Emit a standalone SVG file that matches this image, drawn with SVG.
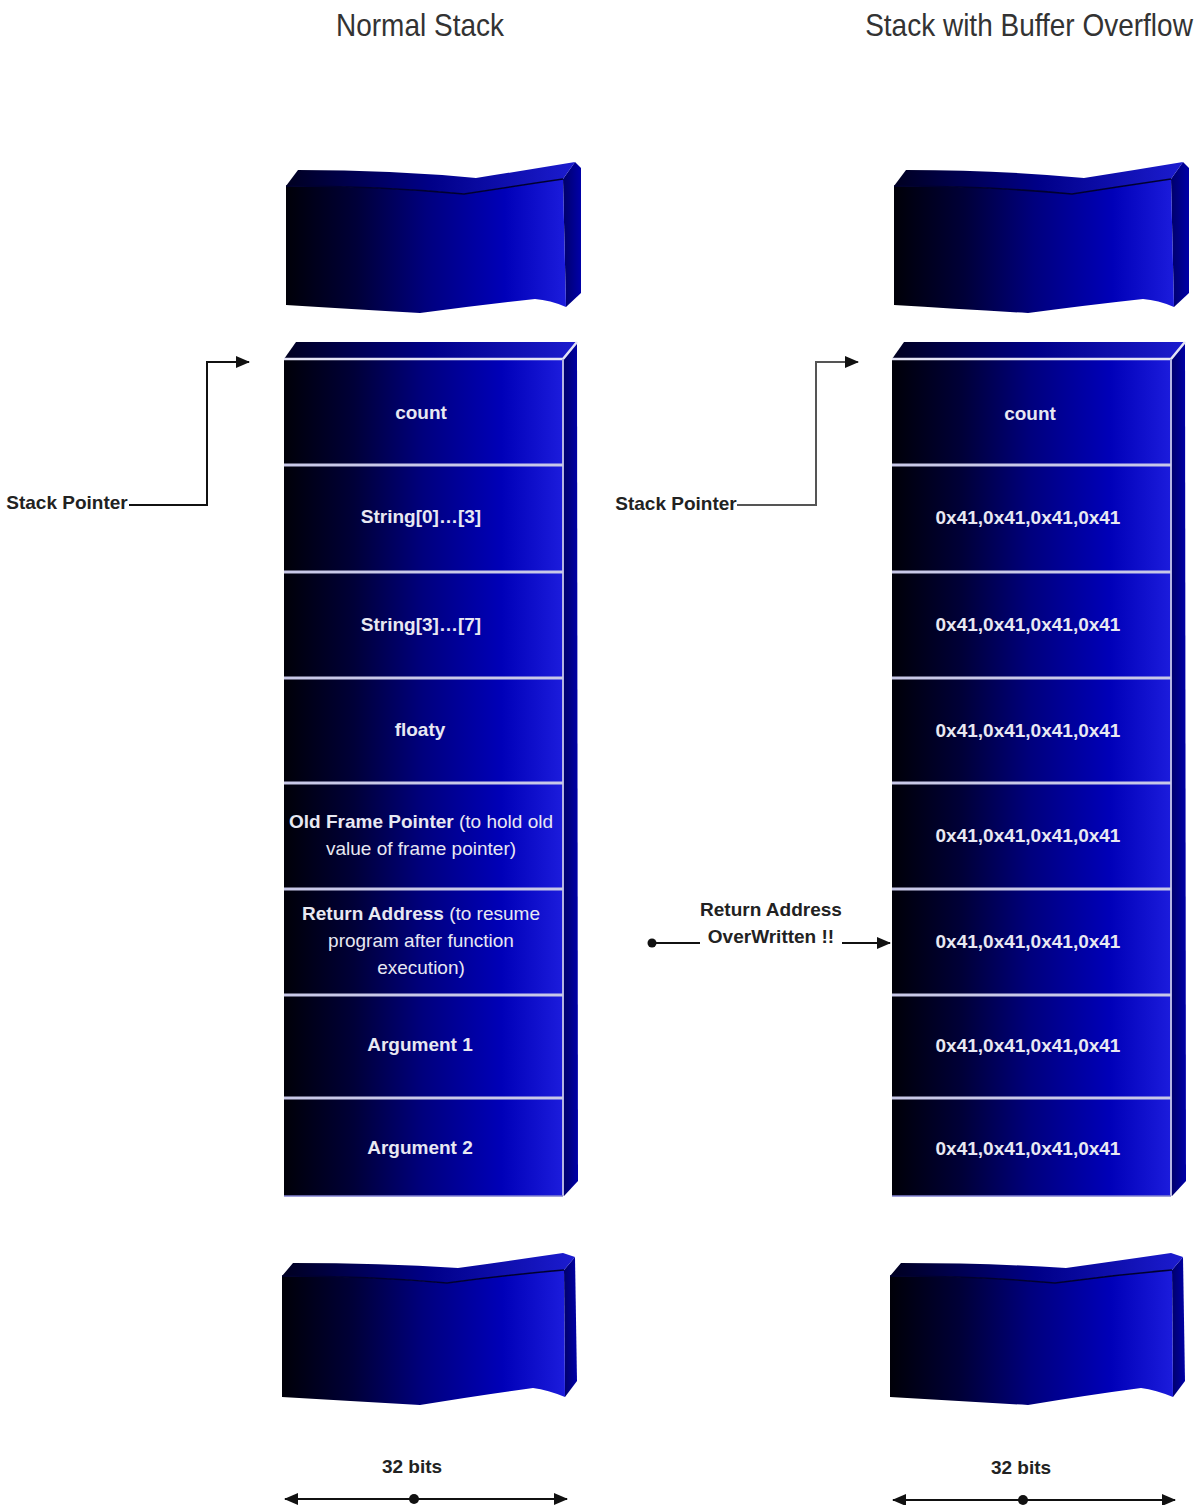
<svg xmlns="http://www.w3.org/2000/svg" xmlns:xlink="http://www.w3.org/1999/xlink" width="1197" height="1505" viewBox="0 0 1197 1505">
<style>
  .title{font-family:"Liberation Sans",Arial,sans-serif;font-size:28px;fill:#333;text-anchor:middle}
  .cell{font-family:"Liberation Sans",Arial,sans-serif;font-size:19px;font-weight:bold;fill:#e8e8f2;text-anchor:middle}
  .cell tspan.n{font-weight:normal}
  .lbl{font-family:"Liberation Sans",Arial,sans-serif;font-size:19px;font-weight:bold;fill:#222;text-anchor:middle}
  .wire{fill:none;stroke:#111;stroke-width:2}
  .wire.grey{stroke:#555}
  .sep{stroke:#c8c8e8;stroke-width:3}
</style>
<defs>
  <linearGradient id="gFront" x1="0" y1="0" x2="1" y2="0">
    <stop offset="0" stop-color="#000008"/>
    <stop offset="0.25" stop-color="#000038"/>
    <stop offset="0.5" stop-color="#00007e"/>
    <stop offset="0.78" stop-color="#0000b8"/>
    <stop offset="1" stop-color="#1c1cdc"/>
  </linearGradient>
  <linearGradient id="gTop" x1="0" y1="0" x2="1" y2="0">
    <stop offset="0" stop-color="#000020"/>
    <stop offset="0.5" stop-color="#000088"/>
    <stop offset="1" stop-color="#1c1cd0"/>
  </linearGradient>
  <linearGradient id="gSide" x1="0" y1="0" x2="1" y2="0">
    <stop offset="0" stop-color="#00006a"/>
    <stop offset="1" stop-color="#0000a8"/>
  </linearGradient>
  <marker id="arrow" viewBox="0 0 14 12" refX="13" refY="6" markerWidth="14" markerHeight="12" markerUnits="userSpaceOnUse" orient="auto-start-reverse">
    <path d="M0,0 L14,6 L0,12 Z" fill="#111"/>
  </marker>

  <!-- upper broken cap -->
  <g id="capTop">
    <path d="M563,179 L575,162 L581,168 L581,293 L566,307 Z" fill="url(#gSide)"/>
    <path d="M286,186 L298,170 Q392,170 476,178 Q527,170 575,162 L563,179 Q515,186 464,194 Q380,186 286,186 Z" fill="url(#gTop)"/>
    <path d="M286,186 Q380,186 464,194 Q515,186 563,179 L566,307 Q550,300 535,299 Q480,305 420,313 Q350,309 286,305 Z" fill="url(#gFront)"/>
    <path d="M286,186 Q380,186 464,194 Q515,186 563,179" fill="none" stroke="#000030" stroke-width="1.5"/>
  </g>
  <!-- lower broken cap -->
  <g id="capBottom">
    <path d="M564,1270 L575,1257 L577,1381 L565,1397 Z" fill="url(#gSide)"/>
    <path d="M282,1276 L293,1263 Q380,1263 458,1268 Q515,1260 563,1253 L575,1257 L564,1270 Q505,1275 447,1283 Q370,1276 282,1276 Z" fill="url(#gTop)"/>
    <path d="M282,1276 Q370,1276 447,1283 Q505,1275 564,1270 L565,1397 Q548,1390 533,1388 Q480,1395 420,1405 Q350,1401 282,1397 Z" fill="url(#gFront)"/>
    <path d="M282,1276 Q370,1276 447,1283 Q505,1275 564,1270" fill="none" stroke="#000030" stroke-width="1.5"/>
  </g>
  <!-- stack frame column -->
  <g id="column">
    <path d="M563,359 L577,342 L578,1181 L564,1196 Z" fill="url(#gSide)"/>
    <path d="M284,359 L296,342 L577,342 L563,359 Z" fill="url(#gTop)"/>
    <rect x="284" y="360" width="279" height="836" fill="url(#gFront)"/>
    <path d="M284,359 L563,359 L577,342" fill="none" stroke="#e4e4f6" stroke-width="2.5"/>
    <line x1="563" y1="359" x2="563" y2="1196" stroke="#b4b4e4" stroke-width="2"/>
    <line x1="284" y1="1196" x2="563" y2="1196" stroke="#8080d0" stroke-width="1.5"/>
    <line class="sep" x1="284" y1="465" x2="563" y2="465"/>
    <line class="sep" x1="284" y1="572" x2="563" y2="572"/>
    <line class="sep" x1="284" y1="678" x2="563" y2="678"/>
    <line class="sep" x1="284" y1="783" x2="563" y2="783"/>
    <line class="sep" x1="284" y1="889" x2="563" y2="889"/>
    <line class="sep" x1="284" y1="995" x2="563" y2="995"/>
    <line class="sep" x1="284" y1="1098" x2="563" y2="1098"/>
  </g>
</defs>

<rect width="1197" height="1505" fill="#ffffff"/>

<!-- titles -->
<g id="title-normal"><text class="title" transform="translate(420,36) scale(1,1.12)">Normal Stack</text></g>
<g id="title-overflow"><text class="title" transform="translate(1029,36) scale(1,1.12)">Stack with Buffer Overflow</text></g>

<!-- Normal stack -->
<g id="normal-stack">
  <g id="ns-cap-top"><use xlink:href="#capTop"/></g>
  <g id="ns-frame"><use xlink:href="#column"/></g>
  <g id="ns-cap-bottom"><use xlink:href="#capBottom"/></g>
  <g id="ns-count"><text class="cell" x="421" y="419">count</text></g>
  <g id="ns-string0"><text class="cell" x="421" y="523">String[0]…[3]</text></g>
  <g id="ns-string3"><text class="cell" x="421" y="631">String[3]…[7]</text></g>
  <g id="ns-floaty"><text class="cell" x="420" y="736">floaty</text></g>
  <g id="ns-oldfp">
    <text class="cell" x="421" y="828">Old Frame Pointer<tspan class="n"> (to hold old</tspan></text>
    <text class="cell" x="421" y="855"><tspan class="n">value of frame pointer)</tspan></text>
  </g>
  <g id="ns-ret">
    <text class="cell" x="421" y="920">Return Address<tspan class="n"> (to resume</tspan></text>
    <text class="cell" x="421" y="947"><tspan class="n">program after function</tspan></text>
    <text class="cell" x="421" y="974"><tspan class="n">execution)</tspan></text>
  </g>
  <g id="ns-arg1"><text class="cell" x="420" y="1051">Argument 1</text></g>
  <g id="ns-arg2"><text class="cell" x="420" y="1154">Argument 2</text></g>
</g>

<!-- Overflowed stack -->
<g id="overflow-stack">
  <g id="bo-cap-top"><use xlink:href="#capTop" x="608"/></g>
  <g id="bo-frame"><use xlink:href="#column" x="608"/></g>
  <g id="bo-cap-bottom"><use xlink:href="#capBottom" x="608"/></g>
  <g id="bo-count"><text class="cell" x="1030" y="420">count</text></g>
  <g id="bo-row1"><text class="cell" x="1028" y="524">0x41,0x41,0x41,0x41</text></g>
  <g id="bo-row2"><text class="cell" x="1028" y="631">0x41,0x41,0x41,0x41</text></g>
  <g id="bo-row3"><text class="cell" x="1028" y="737">0x41,0x41,0x41,0x41</text></g>
  <g id="bo-row4"><text class="cell" x="1028" y="842">0x41,0x41,0x41,0x41</text></g>
  <g id="bo-row5"><text class="cell" x="1028" y="948">0x41,0x41,0x41,0x41</text></g>
  <g id="bo-row6"><text class="cell" x="1028" y="1052">0x41,0x41,0x41,0x41</text></g>
  <g id="bo-row7"><text class="cell" x="1028" y="1155">0x41,0x41,0x41,0x41</text></g>
</g>

<!-- labels -->
<g id="lbl-sp-left"><text class="lbl" x="67" y="509">Stack Pointer</text></g>
<g id="lbl-sp-right"><text class="lbl" x="676" y="510">Stack Pointer</text></g>
<g id="lbl-ret-over">
  <text class="lbl" x="771" y="916">Return Address</text>
  <text class="lbl" x="771" y="943">OverWritten !!</text>
</g>
<g id="lbl-bits-left"><text class="lbl" x="412" y="1473">32 bits</text></g>
<g id="lbl-bits-right"><text class="lbl" x="1021" y="1474">32 bits</text></g>

<!-- connectors -->
<g id="connectors">
  <path class="wire" d="M129,505 L207,505 L207,362 L249,362" marker-end="url(#arrow)"/>
  <path class="wire grey" d="M737,505 L816,505 L816,362 L858,362" marker-end="url(#arrow)"/>
  <circle cx="652" cy="943" r="4.5" fill="#111"/>
  <line class="wire" x1="652" y1="943" x2="700" y2="943"/>
  <path class="wire" d="M842,943 L890,943" marker-end="url(#arrow)"/>
  <path class="wire" d="M285,1499 L567,1499" marker-start="url(#arrow)" marker-end="url(#arrow)"/>
  <circle cx="414" cy="1499" r="5" fill="#111"/>
  <path class="wire" d="M893,1500 L1175,1500" marker-start="url(#arrow)" marker-end="url(#arrow)"/>
  <circle cx="1023" cy="1500" r="5" fill="#111"/>
</g>
</svg>
